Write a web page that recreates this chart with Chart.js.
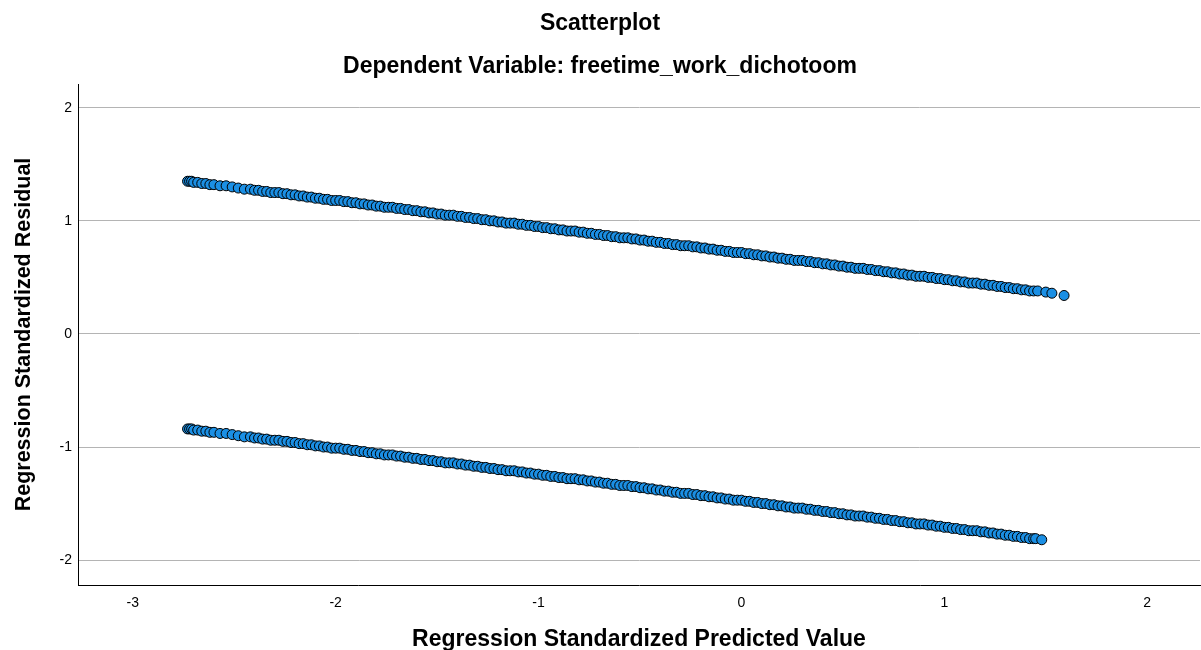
<!DOCTYPE html>
<html>
<head>
<meta charset="utf-8">
<title>Scatterplot</title>
<script src="https://cdn.jsdelivr.net/npm/chart.js@4"></script>
<style>
  html, body { margin: 0; padding: 0; background: #ffffff; }
  #wrap { width: 1201px; height: 650px; }
</style>
</head>
<body>
<div id="wrap"><canvas id="chart" width="1201" height="650"></canvas></div>
<script>
// Standardized predicted values and residuals (upper band: cases with value 1)
const predUpper = [-2.73, -2.72, -2.71, -2.70, -2.68, -2.66, -2.64, -2.62, -2.60, -2.57, -2.54, -2.51, -2.48, -2.45, -2.42, -2.38, -2.34, -2.30, -2.26, -2.22, -2.18, -2.14, -2.10, -2.06, -2.02, -1.98, -1.94, -1.90, -1.86, -1.82, -1.78, -1.74, -1.70, -1.66, -1.62, -1.58, -1.54, -1.50, -1.46, -1.42, -1.38, -1.34, -1.30, -1.26, -1.22, -1.18, -1.14, -1.10, -1.06, -1.02, -0.98, -0.94, -0.90, -0.86, -0.82, -0.78, -0.74, -0.70, -0.66, -0.62, -0.58, -0.54, -0.50, -0.46, -0.42, -0.38, -0.34, -0.30, -0.26, -0.22, -0.18, -0.14, -0.10, -0.06, -0.02, 0.02, 0.06, 0.10, 0.14, 0.18, 0.22, 0.26, 0.30, 0.34, 0.38, 0.42, 0.46, 0.50, 0.54, 0.58, 0.62, 0.66, 0.70, 0.74, 0.78, 0.82, 0.86, 0.90, 0.94, 0.98, 1.02, 1.06, 1.10, 1.14, 1.18, 1.22, 1.26, 1.30, 1.34, 1.38, 1.42, 1.46, 1.50, 1.53, 1.59];
const residUpper = [1.35, 1.35, 1.35, 1.34, 1.34, 1.33, 1.33, 1.32, 1.32, 1.31, 1.31, 1.30, 1.29, 1.28, 1.28, 1.27, 1.26, 1.25, 1.24, 1.23, 1.22, 1.21, 1.20, 1.19, 1.18, 1.18, 1.17, 1.16, 1.15, 1.14, 1.13, 1.12, 1.11, 1.10, 1.09, 1.08, 1.07, 1.06, 1.05, 1.05, 1.04, 1.03, 1.02, 1.01, 1.00, 0.99, 0.98, 0.97, 0.96, 0.95, 0.94, 0.93, 0.92, 0.91, 0.91, 0.90, 0.89, 0.88, 0.87, 0.86, 0.85, 0.84, 0.83, 0.82, 0.81, 0.80, 0.79, 0.78, 0.78, 0.77, 0.76, 0.75, 0.74, 0.73, 0.72, 0.71, 0.70, 0.69, 0.68, 0.67, 0.66, 0.65, 0.65, 0.64, 0.63, 0.62, 0.61, 0.60, 0.59, 0.58, 0.57, 0.56, 0.55, 0.54, 0.53, 0.52, 0.51, 0.51, 0.50, 0.49, 0.48, 0.47, 0.46, 0.45, 0.44, 0.43, 0.42, 0.41, 0.40, 0.39, 0.38, 0.38, 0.37, 0.36, 0.34];
const predUpperMore = [-2.40, -2.36, -2.32, -2.28, -2.24, -2.20, -2.16, -2.12, -2.08, -2.04, -2.00, -1.96, -1.92, -1.88, -1.84, -1.80, -1.76, -1.72, -1.68, -1.64, -1.60, -1.56, -1.52, -1.48, -1.44, -1.40, -1.36, -1.32, -1.28, -1.24, -1.20, -1.16, -1.12, -1.08, -1.04, -1.00, -0.96, -0.92, -0.88, -0.84, -0.80, -0.76, -0.72, -0.68, -0.64, -0.60, -0.56, -0.52, -0.48, -0.44, -0.40, -0.36, -0.32, -0.28, -0.24, -0.20, -0.16, -0.12, -0.08, -0.04, 0.00, 0.04, 0.08, 0.12, 0.16, 0.20, 0.24, 0.28, 0.32, 0.36, 0.40, 0.44, 0.48, 0.52, 0.56, 0.60, 0.64, 0.68, 0.72, 0.76, 0.80, 0.84, 0.88, 0.92, 0.96, 1.00, 1.04, 1.08, 1.12, 1.16, 1.20, 1.24, 1.28, 1.32, 1.36, 1.40, 1.44];
const residUpperMore = [1.27, 1.26, 1.25, 1.25, 1.24, 1.23, 1.22, 1.21, 1.20, 1.19, 1.18, 1.17, 1.16, 1.15, 1.14, 1.13, 1.12, 1.12, 1.11, 1.10, 1.09, 1.08, 1.07, 1.06, 1.05, 1.04, 1.03, 1.02, 1.01, 1.00, 0.99, 0.98, 0.98, 0.97, 0.96, 0.95, 0.94, 0.93, 0.92, 0.91, 0.90, 0.89, 0.88, 0.87, 0.86, 0.85, 0.85, 0.84, 0.83, 0.82, 0.81, 0.80, 0.79, 0.78, 0.77, 0.76, 0.75, 0.74, 0.73, 0.72, 0.72, 0.71, 0.70, 0.69, 0.68, 0.67, 0.66, 0.65, 0.64, 0.63, 0.62, 0.61, 0.60, 0.59, 0.58, 0.58, 0.57, 0.56, 0.55, 0.54, 0.53, 0.52, 0.51, 0.50, 0.49, 0.48, 0.47, 0.46, 0.45, 0.45, 0.44, 0.43, 0.42, 0.41, 0.40, 0.39, 0.38];

// Lower band: cases with value 0
const predLower = [-2.73, -2.72, -2.71, -2.70, -2.68, -2.66, -2.64, -2.62, -2.60, -2.57, -2.54, -2.51, -2.48, -2.45, -2.42, -2.38, -2.34, -2.30, -2.26, -2.22, -2.18, -2.14, -2.10, -2.06, -2.02, -1.98, -1.94, -1.90, -1.86, -1.82, -1.78, -1.74, -1.70, -1.66, -1.62, -1.58, -1.54, -1.50, -1.46, -1.42, -1.38, -1.34, -1.30, -1.26, -1.22, -1.18, -1.14, -1.10, -1.06, -1.02, -0.98, -0.94, -0.90, -0.86, -0.82, -0.78, -0.74, -0.70, -0.66, -0.62, -0.58, -0.54, -0.50, -0.46, -0.42, -0.38, -0.34, -0.30, -0.26, -0.22, -0.18, -0.14, -0.10, -0.06, -0.02, 0.02, 0.06, 0.10, 0.14, 0.18, 0.22, 0.26, 0.30, 0.34, 0.38, 0.42, 0.46, 0.50, 0.54, 0.58, 0.62, 0.66, 0.70, 0.74, 0.78, 0.82, 0.86, 0.90, 0.94, 0.98, 1.02, 1.06, 1.10, 1.14, 1.18, 1.22, 1.26, 1.30, 1.34, 1.38, 1.42, 1.45, 1.48];
const residLower = [-0.84, -0.84, -0.84, -0.85, -0.85, -0.86, -0.86, -0.87, -0.87, -0.88, -0.88, -0.89, -0.90, -0.91, -0.91, -0.92, -0.93, -0.94, -0.95, -0.96, -0.97, -0.98, -0.99, -1.00, -1.01, -1.01, -1.02, -1.03, -1.04, -1.05, -1.06, -1.07, -1.08, -1.09, -1.10, -1.11, -1.12, -1.13, -1.14, -1.14, -1.15, -1.16, -1.17, -1.18, -1.19, -1.20, -1.21, -1.22, -1.23, -1.24, -1.25, -1.26, -1.27, -1.28, -1.28, -1.29, -1.30, -1.31, -1.32, -1.33, -1.34, -1.35, -1.36, -1.37, -1.38, -1.39, -1.40, -1.41, -1.41, -1.42, -1.43, -1.44, -1.45, -1.46, -1.47, -1.48, -1.49, -1.50, -1.51, -1.52, -1.53, -1.54, -1.54, -1.55, -1.56, -1.57, -1.58, -1.59, -1.60, -1.61, -1.62, -1.63, -1.64, -1.65, -1.66, -1.67, -1.68, -1.68, -1.69, -1.70, -1.71, -1.72, -1.73, -1.74, -1.75, -1.76, -1.77, -1.78, -1.79, -1.80, -1.81, -1.81, -1.82];
const predLowerMore = [-2.40, -2.36, -2.32, -2.28, -2.24, -2.20, -2.16, -2.12, -2.08, -2.04, -2.00, -1.96, -1.92, -1.88, -1.84, -1.80, -1.76, -1.72, -1.68, -1.64, -1.60, -1.56, -1.52, -1.48, -1.44, -1.40, -1.36, -1.32, -1.28, -1.24, -1.20, -1.16, -1.12, -1.08, -1.04, -1.00, -0.96, -0.92, -0.88, -0.84, -0.80, -0.76, -0.72, -0.68, -0.64, -0.60, -0.56, -0.52, -0.48, -0.44, -0.40, -0.36, -0.32, -0.28, -0.24, -0.20, -0.16, -0.12, -0.08, -0.04, 0.00, 0.04, 0.08, 0.12, 0.16, 0.20, 0.24, 0.28, 0.32, 0.36, 0.40, 0.44, 0.48, 0.52, 0.56, 0.60, 0.64, 0.68, 0.72, 0.76, 0.80, 0.84, 0.88, 0.92, 0.96, 1.00, 1.04, 1.08, 1.12, 1.16, 1.20, 1.24, 1.28, 1.32, 1.36, 1.40, 1.44];
const residLowerMore = [-0.92, -0.93, -0.94, -0.94, -0.95, -0.96, -0.97, -0.98, -0.99, -1.00, -1.01, -1.02, -1.03, -1.04, -1.05, -1.06, -1.07, -1.07, -1.08, -1.09, -1.10, -1.11, -1.12, -1.13, -1.14, -1.15, -1.16, -1.17, -1.18, -1.19, -1.20, -1.21, -1.21, -1.22, -1.23, -1.24, -1.25, -1.26, -1.27, -1.28, -1.29, -1.30, -1.31, -1.32, -1.33, -1.34, -1.34, -1.35, -1.36, -1.37, -1.38, -1.39, -1.40, -1.41, -1.42, -1.43, -1.44, -1.45, -1.46, -1.47, -1.47, -1.48, -1.49, -1.50, -1.51, -1.52, -1.53, -1.54, -1.55, -1.56, -1.57, -1.58, -1.59, -1.60, -1.61, -1.61, -1.62, -1.63, -1.64, -1.65, -1.66, -1.67, -1.68, -1.69, -1.70, -1.71, -1.72, -1.73, -1.74, -1.74, -1.75, -1.76, -1.77, -1.78, -1.79, -1.80, -1.81];

// Axis tick values
const xTicks = [-3, -2, -1, 0, 1, 2];
const yTicks = [-2, -1, 0, 1, 2];

const FONT = "'Liberation Sans', Arial, Helvetica, sans-serif";

function toPoints(xs, ys) {
  return xs.map((x, i) => ({ x: x, y: ys[i] }));
}

// Interleave the two lists of each band so overlapping markers stack in x order
function merged(xa, ya, xb, yb) {
  return toPoints(xa, ya).concat(toPoints(xb, yb)).sort((p, q) => p.x - q.x);
}

const allPoints = merged(predUpper, residUpper, predUpperMore, residUpperMore)
  .concat(merged(predLower, residLower, predLowerMore, residLowerMore));

new Chart(document.getElementById('chart'), {
  type: 'scatter',
  data: {
    datasets: [{
      data: allPoints,
      pointRadius: 5,
      pointHoverRadius: 5,
      pointBackgroundColor: '#1b8fe4',
      pointBorderColor: '#000000',
      pointBorderWidth: 1
    }]
  },
  options: {
    responsive: false,
    devicePixelRatio: 1,
    animation: false,
    events: [],
    layout: { autoPadding: false, padding: { left: 0, right: 1, top: 0, bottom: 0 } },
    plugins: {
      legend: { display: false },
      tooltip: { enabled: false },
      title: {
        display: true,
        text: 'Scatterplot',
        color: '#000000',
        font: { family: FONT, size: 23, weight: 'bold', lineHeight: 1.2 },
        padding: { top: 10, bottom: 7.4 }
      },
      subtitle: {
        display: true,
        text: 'Dependent Variable: freetime_work_dichotoom',
        color: '#000000',
        font: { family: FONT, size: 23, weight: 'bold', lineHeight: 1.2 },
        padding: { top: 8, bottom: 3.4 }
      }
    },
    scales: {
      x: {
        type: 'linear',
        min: -3.27,
        max: 2.26,
        afterFit: (s) => { s.height = 65; s.paddingLeft = 0; s.paddingRight = 0; },
        afterBuildTicks: (s) => { s.ticks = xTicks.map(v => ({ value: v })); },
        ticks: {
          includeBounds: false,
          color: '#000000',
          padding: 10,
          maxRotation: 0,
          font: { family: FONT, size: 14 }
        },
        grid: { display: true, color: 'rgba(0,0,0,0)', drawTicks: false },
        border: { display: true, color: '#000000', width: 1 },
        title: {
          display: true,
          text: 'Regression Standardized Predicted Value',
          color: '#000000',
          font: { family: FONT, size: 23, weight: 'bold', lineHeight: 0.9 },
          padding: { top: 0, bottom: 0 }
        }
      },
      y: {
        type: 'linear',
        min: -2.22,
        max: 2.21,
        afterFit: (s) => { s.width = 78; s.paddingTop = 0; s.paddingBottom = 0; },
        afterBuildTicks: (s) => { s.ticks = yTicks.map(v => ({ value: v })); },
        ticks: {
          includeBounds: false,
          color: '#000000',
          padding: 6,
          font: { family: FONT, size: 14 }
        },
        grid: { display: true, color: '#b4b4b4', lineWidth: 1, drawTicks: false },
        border: { display: true, color: '#000000', width: 1 },
        title: {
          display: true,
          text: 'Regression Standardized Residual',
          color: '#000000',
          font: { family: FONT, size: 21.5, weight: 'bold', lineHeight: 1 },
          padding: { top: 13, bottom: 0 }
        }
      }
    }
  }
});
</script>
</body>
</html>
